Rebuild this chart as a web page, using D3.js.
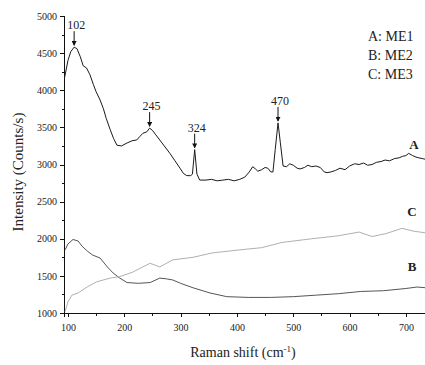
<!DOCTYPE html>
<html lang="en">
<head>
  <meta charset="UTF-8" />
  <title>Raman spectra ME1-ME3</title>
  <script src="https://d3js.org/d3.v7.min.js"></script>
  <style>
    body {
      margin: 0;
      background: #fff;
      font-family: "Liberation Serif", "Times New Roman", serif;
    }
    .axis path, .axis line {
      stroke: #111;
      stroke-width: 1px;
      shape-rendering: crispEdges;
    }
    .axis text {
      font-family: "Liberation Serif", serif;
      font-size: 10px;
      fill: #222;
    }
    .curve {
      fill: none;
      stroke-width: 1px;
      stroke-linejoin: round;
    }
  </style>
</head>
<body>

<svg id="chart" width="425" height="365"></svg>

<script>
// Raman shift (cm-1) / intensity (counts/s)
const shiftA = [94, 100, 105, 111, 116, 122, 127, 133, 139, 145, 150, 157, 163, 168, 175, 181, 187, 195,
  205, 214, 222, 228, 233, 240, 245, 250, 256, 263, 270, 281, 290, 299, 305, 311, 318, 321, 325, 329,
  334, 345, 355, 365, 375, 385, 395, 405, 414, 422, 428, 433, 437, 444, 450, 455, 460, 464, 468, 473,
  477, 482, 488, 494, 500, 507, 512, 520, 526, 533, 540, 548, 555, 560, 567, 575, 583, 592, 600, 609,
  617, 625, 632, 640, 648, 656, 663, 671, 680, 688, 694, 700, 705, 712, 718, 723, 729, 735];
const countsA = [4170, 4400, 4520, 4580, 4560, 4450, 4330, 4300, 4210, 4080, 3980, 3870, 3750, 3620, 3470, 3350, 3260, 3250,
  3290, 3320, 3330, 3380, 3420, 3440, 3490, 3460, 3400, 3330, 3260, 3150, 3050, 2950, 2880, 2850, 2850, 2870, 3200, 2870,
  2790, 2790, 2800, 2780, 2790, 2800, 2780, 2800, 2830, 2900, 2970, 2940, 2910, 2930, 2960, 2950, 2900, 2900, 3200, 3560,
  3300, 2980, 2970, 3010, 2990, 2950, 2940, 2960, 2990, 2970, 2980, 2960, 2900, 2890, 2900, 2920, 2950, 2930, 2980, 3010,
  3000, 3020, 2990, 3000, 3030, 3040, 3060, 3050, 3080, 3090, 3110, 3120, 3150, 3120, 3100, 3090, 3080, 3070];

const shiftB = [95, 100, 109, 118, 125, 135, 144, 157, 170, 180, 192, 205, 225, 246, 263, 275, 286, 300,
  322, 352, 382, 420, 460, 500, 540, 580, 620, 660, 700, 720, 735];
const countsB = [1850, 1930, 1990, 1970, 1900, 1830, 1780, 1740, 1620, 1540, 1470, 1410, 1400, 1410, 1470, 1460, 1445, 1400,
  1340, 1270, 1220, 1210, 1210, 1220, 1240, 1260, 1290, 1300, 1330, 1350, 1340];

const shiftC = [95, 100, 107, 118, 134, 151, 175, 192, 215, 230, 246, 263, 286, 322, 357, 405, 444, 480,
  533, 580, 617, 640, 665, 693, 715, 735];
const countsC = [1020, 1150, 1240, 1270, 1350, 1420, 1470, 1490, 1550, 1610, 1670, 1620, 1715, 1750, 1810, 1850, 1880, 1950,
  2000, 2040, 2090, 2030, 2070, 2140, 2100, 2080];

const peakShift = [111, 245, 325, 473];
const peakLabel = ["102", "245", "324", "470"];
const peakCounts = [4580, 3490, 3200, 3560];

const legendLines = ["A: ME1", "B: ME2", "C: ME3"];
const curveNames = ["A", "B", "C"];

const xTicks = [100, 200, 300, 400, 500, 600, 700];
const yTicks = [1000, 1500, 2000, 2500, 3000, 3500, 4000, 4500, 5000];

const svg = d3.select("#chart");

const x = d3.scaleLinear().domain([93, 735]).range([64, 425.6]);
const y = d3.scaleLinear().domain([1000, 5000]).range([313, 16]);

// minor ticks first, majors on top
svg.append("g")
    .attr("class", "axis")
    .attr("transform", "translate(0,313)")
    .call(d3.axisBottom(x).tickValues(d3.range(150, 735, 100)).tickSize(2.5).tickFormat(""))
    .call(g => g.select(".domain").remove());
svg.append("g")
    .attr("class", "axis")
    .attr("transform", "translate(64,0)")
    .call(d3.axisLeft(y).tickValues(d3.range(1250, 5000, 500)).tickSize(2.5).tickFormat(""))
    .call(g => g.select(".domain").remove());

svg.append("g")
    .attr("class", "axis")
    .attr("transform", "translate(0,313)")
    .call(d3.axisBottom(x).tickValues(xTicks).tickFormat(d3.format("d"))
      .tickSizeOuter(0).tickSize(4).tickPadding(7));

svg.append("g")
    .attr("class", "axis")
    .attr("transform", "translate(64,0)")
    .call(d3.axisLeft(y).tickValues(yTicks).tickFormat(d3.format("d"))
      .tickSizeOuter(0).tickSize(4).tickPadding(3));

// curves
const curves = [
  {xs: shiftA, ys: countsA, color: "#1a1a1a"},
  {xs: shiftB, ys: countsB, color: "#555"},
  {xs: shiftC, ys: countsC, color: "#b0b0b0"}
];
const line = d3.line()
    .x(d => x(d[0]))
    .y(d => y(d[1]));

svg.append("g")
  .selectAll("path")
  .data(curves)
  .join("path")
    .attr("class", "curve")
    .attr("stroke", d => d.color)
    .attr("d", d => line(d.xs.map((v, i) => [v, d.ys[i]])));

// peak arrows and labels
svg.append("defs").append("marker")
    .attr("id", "head")
    .attr("viewBox", "0 0 6 6")
    .attr("refX", 5).attr("refY", 3)
    .attr("markerWidth", 5).attr("markerHeight", 5)
    .attr("orient", "auto")
  .append("path")
    .attr("d", "M0,0L6,3L0,6Z")
    .attr("fill", "#111");

const peaks = svg.append("g")
  .selectAll("g")
  .data(peakShift.map((s, i) => ({s, label: peakLabel[i], c: peakCounts[i]})))
  .join("g");

peaks.append("line")
    .attr("x1", d => x(d.s)).attr("x2", d => x(d.s))
    .attr("y1", d => y(d.c) - 16).attr("y2", d => y(d.c) - 2)
    .attr("stroke", "#111")
    .attr("stroke-width", 1)
    .attr("marker-end", "url(#head)");

peaks.append("text")
    .attr("x", d => x(d.s) + 2)
    .attr("y", d => y(d.c) - 18)
    .attr("text-anchor", "middle")
    .style("font-size", "12px")
    .style("fill", "#222")
    .text(d => d.label);

// curve letters at the right
svg.append("g")
  .selectAll("text")
  .data(curveNames)
  .join("text")
    .attr("x", (d, i) => i === 0 ? 414 : 412)
    .attr("y", (d, i) => [149, 271, 216][i])
    .attr("text-anchor", "middle")
    .style("font-size", "13px")
    .style("font-weight", "bold")
    .style("fill", "#222")
    .text(d => d);

// legend
svg.append("g")
  .selectAll("text")
  .data(legendLines)
  .join("text")
    .attr("x", 368)
    .attr("y", (d, i) => 41 + i * 19)
    .style("font-size", "14px")
    .style("fill", "#222")
    .text(d => d);

// axis titles
svg.append("text")
    .attr("x", 243)
    .attr("y", 357)
    .attr("text-anchor", "middle")
    .style("font-size", "14px")
    .style("fill", "#222")
    .html("Raman shift (cm<tspan dy='-5' font-size='9px'>-1</tspan><tspan dy='5'>)</tspan>");

svg.append("text")
    .attr("transform", "translate(23,172) rotate(-90)")
    .attr("text-anchor", "middle")
    .style("font-size", "15px")
    .style("fill", "#222")
    .text("Intensity (Counts/s)");
</script>

</body>
</html>
